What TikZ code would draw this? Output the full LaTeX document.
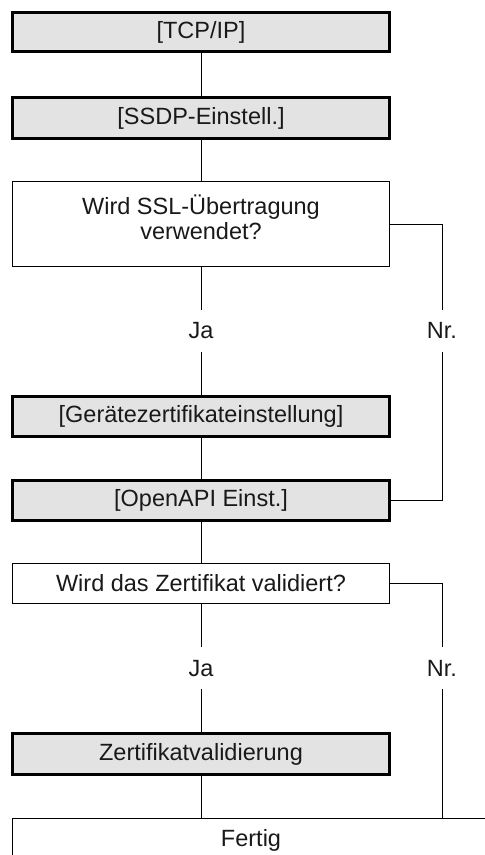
\documentclass[tikz,border=0pt]{standalone}
\usepackage{fontspec}
\setmainfont{Liberation Sans}
\usetikzlibrary{positioning,calc}

\begin{document}
\begin{tikzpicture}[
    x=1pt, y=-1pt,
    every node/.style={font=\fontsize{23.5}{25}\selectfont, text=black!90},
    menu/.style={rectangle, draw=black, fill=black!11, line width=3pt, minimum width=377pt, minimum height=40pt, align=center},
    ask/.style={rectangle, draw=black, fill=white, line width=0.8pt, minimum width=377pt, minimum height=40.5pt, align=center},
    answer/.style={inner sep=0pt, minimum height=42pt},
    wire/.style={line width=0.8pt}
]
    % Seitenrahmen
    \useasboundingbox (0,0) rectangle (485,855);
    \clip (0,0) rectangle (485,855);

    % --- Schritte ---
    \node[menu, minimum height=39pt] (tcp) at (201,32) {[TCP/IP]};
    \node[menu, minimum height=41pt, below=43pt of tcp] (ssdp) {[SSDP-Einstell.]};
    \node[ask, minimum height=85pt, text depth=14pt, below=41pt of ssdp] (ssl) {Wird SSL-Übertragung\\verwendet?};
    \node[menu, below=128pt of ssl] (cert) {[Gerätezertifikateinstellung]};
    \node[menu, below=41pt of cert] (api) {[OpenAPI Einst.]};
    \node[ask, below=41pt of api] (valid) {Wird das Zertifikat validiert?};
    \node[menu, minimum height=41pt, below=128pt of valid] (check) {Zertifikatvalidierung};
    \node[ask, minimum width=478pt, minimum height=44pt, below=42pt of check, xshift=50pt] (done) {Fertig};

    % --- Antworten ---
    \coordinate (rail) at (442,0);
    \node[answer] (ja1) at ($(ssl.south)!0.5!(cert.north)$) {Ja};
    \node[answer] (nr1) at (ja1 -| rail) {Nr.};
    \node[answer] (ja2) at ($(valid.south)!0.5!(check.north)$) {Ja};
    \node[answer] (nr2) at (ja2 -| rail) {Nr.};

    % --- Verbindungen ---
    \draw[wire] (tcp) -- (ssdp);
    \draw[wire] (ssdp) -- (ssl);
    \draw[wire] (ssl) -- (ja1);
    \draw[wire] (ja1) -- (cert);
    \draw[wire] (cert) -- (api);
    \draw[wire] (ssl.east) -| (nr1);
    \draw[wire] (nr1) |- (api.east);
    \draw[wire] (api) -- (valid);
    \draw[wire] (valid) -- (ja2);
    \draw[wire] (ja2) -- (check);
    \draw[wire] (valid.east) -| (nr2);
    \draw[wire] (nr2) -- (nr2 |- done.north);
    \draw[wire] (check) -- (check |- done.north);
\end{tikzpicture}
\end{document}
